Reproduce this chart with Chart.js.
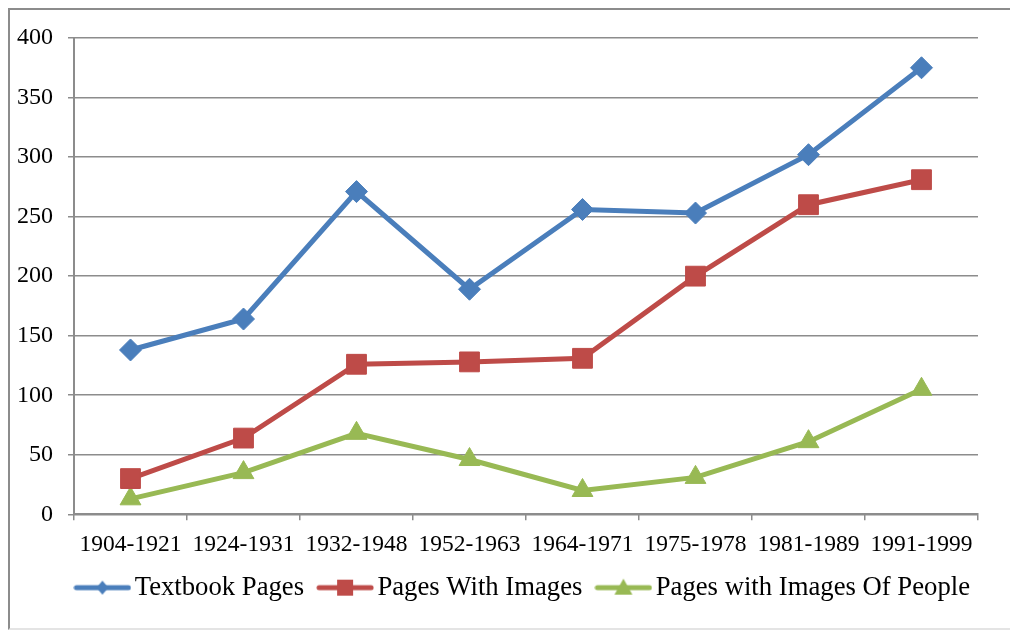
<!DOCTYPE html>
<html>
<head>
<meta charset="utf-8">
<script src="https://cdn.jsdelivr.net/npm/chart.js@4.4.0/dist/chart.umd.min.js"></script>
<style>
  html, body { margin: 0; padding: 0; background: #fff; }
  #frame { position: absolute; left: 8px; top: 8px; width: 1010px; height: 622px; border: 2px solid #8c8c8c; border-right: none; border-bottom-color: #e4e4e4; box-sizing: border-box; }
  #wrap { position: absolute; left: 0; top: 0; width: 1010px; height: 633px; }
</style>
</head>
<body>
<div id="frame"></div>
<div id="wrap"><canvas id="chart"></canvas></div>
<script>
// data
const periods = ['1904-1921', '1924-1931', '1932-1948', '1952-1963', '1964-1971', '1975-1978', '1981-1989', '1991-1999'];
const textbookPages = [138, 164, 271, 189, 256, 253, 302, 375];
const pagesWithImages = [30, 64, 126, 128, 131, 200, 260, 281];
const pagesWithPeople = [13, 35, 68, 46, 20, 31, 61, 105];

const BLUE = '#4a7ebb';
const RED = '#be4b48';
const GREEN = '#98b954';
const GRID = '#8c8c8c';
const FONT = "'Liberation Serif', 'Times New Roman', serif";

// legend icon: line with the marker in the middle
function legendIcon(color, shape) {
    const c = document.createElement('canvas');
    c.width = 58; c.height = 22;
    const g = c.getContext('2d');
    g.strokeStyle = color;
    g.fillStyle = color;
    g.lineWidth = 5;
    g.lineCap = 'round';
    g.beginPath();
    g.moveTo(3, 11);
    g.lineTo(55, 11);
    g.stroke();
    g.beginPath();
    if (shape === 'diamond') {
        g.moveTo(29, 4); g.lineTo(35, 11); g.lineTo(29, 18); g.lineTo(23, 11);
    } else if (shape === 'square') {
        g.rect(21, 3, 16, 16);
    } else {
        g.moveTo(29, 2); g.lineTo(38, 18); g.lineTo(20, 18);
    }
    g.closePath();
    g.fill();
    return c;
}
const icons = [legendIcon(BLUE, 'diamond'), legendIcon(RED, 'square'), legendIcon(GREEN, 'triangle')];

// nudge the legend row a bit to the right, like the original
const legendShift = {
    id: 'legendShift',
    afterLayout(chart) {
        chart.legend.left += 14;
        chart.legend.right += 14;
    }
};

const ctx = document.getElementById('chart').getContext('2d');
new Chart(ctx, {
    type: 'line',
    data: {
        labels: periods,
        datasets: [
            {
                label: 'Textbook Pages',
                data: textbookPages,
                borderColor: BLUE,
                backgroundColor: BLUE,
                borderWidth: 5,
                pointStyle: 'rectRot',
                pointRadius: 11,
                pointBorderWidth: 1
            },
            {
                label: 'Pages With Images',
                data: pagesWithImages,
                borderColor: RED,
                backgroundColor: RED,
                borderWidth: 5,
                pointStyle: 'rect',
                pointRadius: 14,
                pointBorderWidth: 1
            },
            {
                label: 'Pages with Images Of People',
                data: pagesWithPeople,
                borderColor: GREEN,
                backgroundColor: GREEN,
                borderWidth: 5,
                pointStyle: 'triangle',
                pointRadius: 12,
                pointBorderWidth: 1
            }
        ]
    },
    plugins: [legendShift],
    options: {
        responsive: true,
        maintainAspectRatio: false,
        animation: false,
        layout: { padding: { left: 0, right: 32, top: 38, bottom: 22 } },
        plugins: {
            tooltip: { enabled: false },
            legend: {
                position: 'bottom',
                align: 'end',
                labels: {
                    usePointStyle: true,
                    pointStyleWidth: 38,
                    padding: 22,
                    color: '#000',
                    font: { family: FONT, size: 26.7 },
                    generateLabels: function(chart) {
                        const items = Chart.defaults.plugins.legend.labels.generateLabels(chart);
                        items.forEach((it, i) => { it.pointStyle = icons[i]; });
                        return items;
                    }
                }
            }
        },
        scales: {
            x: {
                offset: true,
                grid: { display: true, offset: true, drawOnChartArea: false, drawTicks: true, tickLength: 6, color: GRID, lineWidth: 1.5 },
                border: { color: GRID, width: 2 },
                ticks: { color: '#000', padding: 10, maxRotation: 0, font: { family: FONT, size: 23.5 } },
                afterFit: function(scale) { scale.height = 38; }
            },
            y: {
                min: 0,
                max: 400,
                grid: { color: GRID, lineWidth: 1.5, tickLength: 6 },
                border: { color: GRID, width: 2 },
                ticks: { stepSize: 50, color: '#000', padding: 15, font: { family: FONT, size: 24 } },
                afterFit: function(scale) { scale.width = 74; }
            }
        }
    }
});
</script>
</body>
</html>
